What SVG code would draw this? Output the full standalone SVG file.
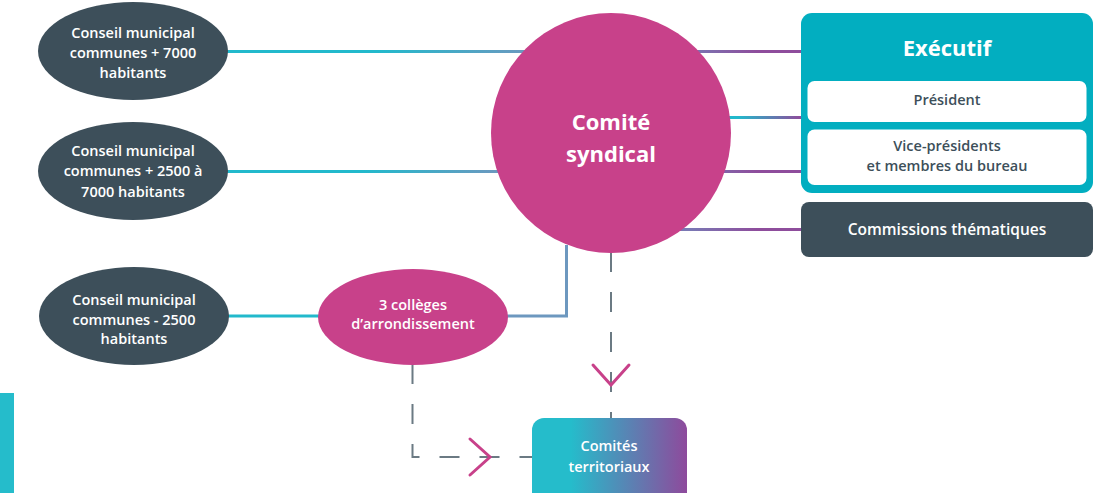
<svg xmlns="http://www.w3.org/2000/svg" width="1094" height="493" viewBox="0 0 1094 493">
<defs>
<style>
text{font-family:"Open Sans","Noto Sans","Liberation Sans",sans-serif;font-weight:600;text-anchor:middle}
.w{fill:#ffffff}
.d{fill:#3d4f5a}
.s{font-size:14.5px}
.b{font-size:22px;font-weight:700}
.dark{fill:#3d4f5a}
.pink{fill:#c8418a}
.ln{fill:none;stroke-width:3}
.dash{fill:none;stroke:#6b7a83;stroke-width:2;stroke-dasharray:20 20}
.chev{fill:none;stroke:#c8418a;stroke-width:3;stroke-linecap:round;stroke-linejoin:miter}
</style>
<linearGradient id="gL1" gradientUnits="userSpaceOnUse" x1="226" y1="0" x2="530" y2="0"><stop offset="0.5" stop-color="#22b9cc"/><stop offset="1" stop-color="#6d98bf"/></linearGradient>
<linearGradient id="gL2" gradientUnits="userSpaceOnUse" x1="226" y1="0" x2="500" y2="0"><stop offset="0.5" stop-color="#22b9cc"/><stop offset="1" stop-color="#6d98bf"/></linearGradient>
<linearGradient id="gR" gradientUnits="userSpaceOnUse" x1="690" y1="0" x2="802" y2="0"><stop offset="0" stop-color="#7a78b4"/><stop offset="0.6" stop-color="#8e4d9c"/></linearGradient>
<linearGradient id="gR2" gradientUnits="userSpaceOnUse" x1="730" y1="0" x2="808" y2="0"><stop offset="0.1" stop-color="#22b9cc"/><stop offset="0.9" stop-color="#8e4d9c"/></linearGradient>
<linearGradient id="gComites" x1="0" y1="0" x2="1" y2="0"><stop offset="0.25" stop-color="#25bccb"/><stop offset="1" stop-color="#8e4a9c"/></linearGradient>
</defs>
<rect x="0" y="393" width="14" height="100" fill="#25bccb"/>
<g id="connectors">
<path class="ln" stroke="url(#gL1)" d="M226 51.5H530"/>
<path class="ln" stroke="url(#gL2)" d="M226 171.5H500"/>
<path class="ln" stroke="#22b9cc" d="M228 316H320"/>
<path class="ln" stroke="#6d98bf" d="M506 316H566.5V245"/>
<path class="ln" stroke="url(#gR)" d="M690 51.5H802"/>
<path class="ln" stroke="url(#gR2)" d="M728 117.5H808"/>
<path class="ln" stroke="url(#gR)" d="M715 171.5H802"/>
<path class="ln" stroke="url(#gR)" d="M680 229.5H802"/>
<path class="dash" d="M611 252V418"/>
<path class="chev" d="M593 365L611 385L629 365"/>
<path class="dash" d="M412.5 364V457H532"/>
<path class="chev" d="M470 439L490 457L470 475"/>
</g>
<g id="n1"><ellipse class="dark" cx="133" cy="51" rx="95" ry="49"/>
<text class="w s" x="133" y="38">Conseil municipal</text><text class="w s" x="133" y="58">communes + 7000</text><text class="w s" x="133" y="78">habitants</text></g>
<g id="n2"><ellipse class="dark" cx="133" cy="171" rx="95" ry="49"/>
<text class="w s" x="133" y="156">Conseil municipal</text><text class="w s" x="133" y="176">communes + 2500 à</text><text class="w s" x="133" y="197">7000 habitants</text></g>
<g id="n3"><ellipse class="dark" cx="134" cy="316" rx="95" ry="49"/>
<text class="w s" x="134" y="305">Conseil municipal</text><text class="w s" x="134" y="325">communes - 2500</text><text class="w s" x="134" y="344">habitants</text></g>
<g id="colleges"><ellipse class="pink" cx="413" cy="317" rx="95" ry="48"/>
<text class="w s" x="413" y="310">3 collèges</text><text class="w s" x="413" y="329">d’arrondissement</text></g>
<g id="comite"><circle class="pink" cx="611" cy="133" r="120"/>
<text class="w b" x="611" y="130">Comité</text><text class="w b" x="611" y="162">syndical</text></g>
<g id="executif"><rect x="801" y="13" width="292" height="180" rx="11" fill="#02aec0"/>
<text class="w b" x="947" y="56">Exécutif</text></g>
<g id="president"><rect x="807.5" y="81" width="279" height="41" rx="7" fill="#ffffff"/>
<text class="d s" x="947" y="105">Président</text></g>
<g id="vice"><rect x="807.5" y="129.5" width="279" height="55.5" rx="7" fill="#ffffff"/>
<text class="d s" x="947" y="151">Vice-présidents</text><text class="d s" x="947" y="171">et membres du bureau</text></g>
<g id="commissions"><rect x="801" y="202" width="292" height="55" rx="8" class="dark"/>
<text class="w s" x="947" y="235" style="font-size:15.5px">Commissions thématiques</text></g>
<g id="comites"><rect x="532" y="418" width="155" height="90" rx="12" fill="url(#gComites)"/>
<text class="w s" x="609" y="451">Comités</text><text class="w s" x="609" y="472">territoriaux</text></g>
</svg>
